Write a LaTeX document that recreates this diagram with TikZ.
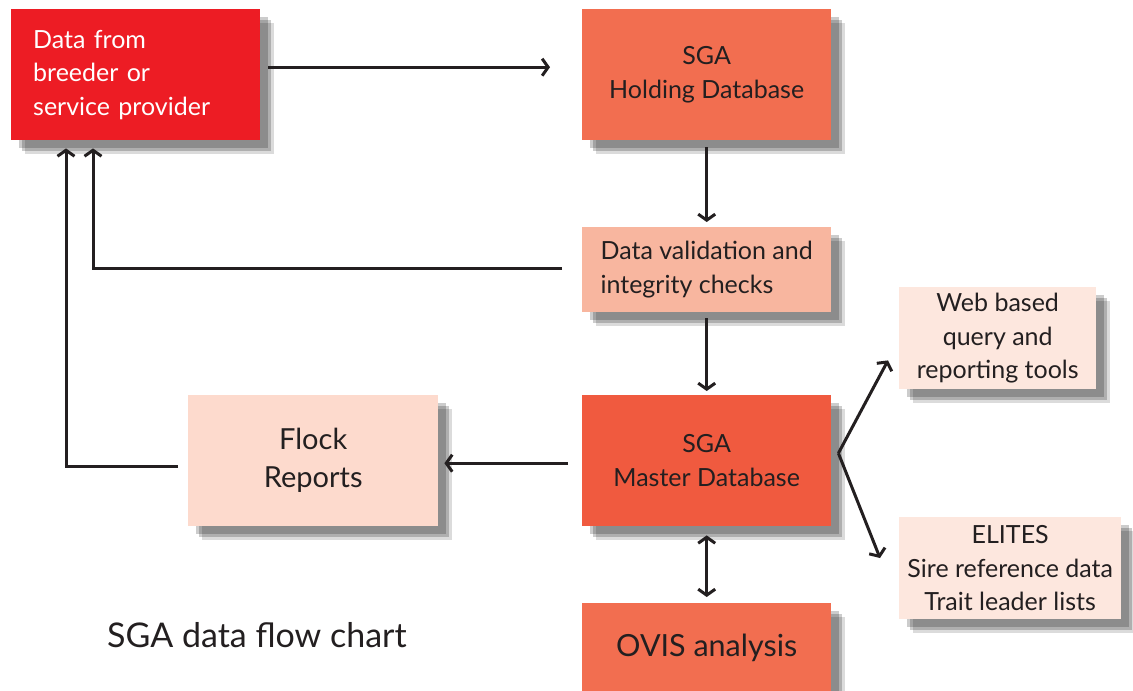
\documentclass[tikz,border=0pt]{standalone}
\usepackage{fontspec}
\setmainfont{Lato}
\usetikzlibrary{arrows.meta,shadows,positioning}
\definecolor{cRed}{HTML}{ED1C24}
\definecolor{cHold}{HTML}{F26E50}
\definecolor{cVal}{HTML}{F8B69F}
\definecolor{cMast}{HTML}{F05A3F}
\definecolor{cFlock}{HTML}{FDDACD}
\definecolor{cPale}{HTML}{FDE7DE}
\definecolor{cInk}{HTML}{231F20}
\tikzset{
  softshadow/.style={
    drop shadow={shadow xshift=8pt,shadow yshift=-8pt,fill=black,opacity=0.2},
    drop shadow={shadow xshift=11pt,shadow yshift=-11pt,fill=black,opacity=0.2},
    drop shadow={shadow xshift=14pt,shadow yshift=-14pt,fill=black,opacity=0.14}},
  boxbase/.style={softshadow,rectangle,inner sep=0pt,anchor=north west,
    text=cInk,align=center,font=\fontsize{25}{33.5}\selectfont},
  arr/.style={draw=cInk,line width=3pt,-{Straight Barb[length=6pt,width=17pt]}},
  darr/.style={draw=cInk,line width=3pt,{Straight Barb[length=6pt,width=17pt]}-{Straight Barb[length=6pt,width=17pt]}},
}
\begin{document}
\begin{tikzpicture}[x=1pt,y=-1pt]
\useasboundingbox (0,0) rectangle (1133,691);
\node[boxbase,fill=cRed,text=white,minimum width=249pt,minimum height=131pt,
  text width=205pt,align=left,inner xsep=22pt] (red) at (11,9)
  {Data from\\breeder or\\service provider};
\node[boxbase,fill=cHold,minimum width=249pt,minimum height=131pt] (hold) at (582,9)
  {SGA\\Holding Database};
\node[boxbase,fill=cVal,minimum width=249pt,minimum height=85pt,align=left] (val) at (582,227)
  {Data validation and\\integrity checks};
\node[boxbase,fill=cPale,minimum width=197pt,minimum height=102pt] (web) at (899,287)
  {Web based\\query and\\reporting tools};
\node[boxbase,fill=cMast,minimum width=249pt,minimum height=131pt] (mast) at (582,395)
  {SGA\\Master Database};
\node[boxbase,fill=cFlock,minimum width=250pt,minimum height=131pt,
  font=\fontsize{29}{38}\selectfont] (flock) at (188,395)
  {Flock\\Reports};
\node[boxbase,fill=cPale,minimum width=222pt,minimum height=102pt] (elites) at (899,517)
  {ELITES\\Sire reference data\\Trait leader lists};
\node[boxbase,fill=cHold,minimum width=249pt,minimum height=90pt,
  font=\fontsize{30.5}{36}\selectfont] (ovis) at (582,603)
  {OVIS analysis};
\node[anchor=west,text=cInk,inner sep=0pt,font=\fontsize{34}{40}\selectfont] (cap) at (107,635)
  {SGA data flow chart};

\coordinate (inL) at ([xshift=55pt]red.south west);
\coordinate (inR) at ([xshift=82pt]red.south west);
\coordinate (vtx) at ([xshift=7pt,yshift=7.5pt]mast.east);

\draw[arr,shorten <=8pt,shorten >=32pt] ([yshift=7.5pt]red.east) -- ([yshift=7.5pt]hold.west);
\draw[arr,shorten <=7pt,shorten >=5pt] (hold.south) -- (val.north);
\draw[arr,shorten <=6pt,shorten >=4pt] (val.south) -- (mast.north);
\draw[arr,shorten <=20pt,shorten >=8pt] ([yshift=1.5pt]val.west) -| (inR);
\draw[arr,shorten <=14pt,shorten >=6pt] ([yshift=-2.5pt]mast.west) -- ([yshift=-2.5pt]flock.east);
\draw[arr,shorten <=10pt,shorten >=8pt] ([yshift=-5.5pt]flock.west) -| (inL);
\draw[arr] (vtx) -- ([xshift=-11pt,yshift=29pt]web.south west);
\draw[arr] (vtx) -- ([xshift=-19pt,yshift=-41pt]elites.north west);
\draw[darr,shorten <=9pt,shorten >=6pt] (mast.south) -- (ovis.north);
\end{tikzpicture}
\end{document}
